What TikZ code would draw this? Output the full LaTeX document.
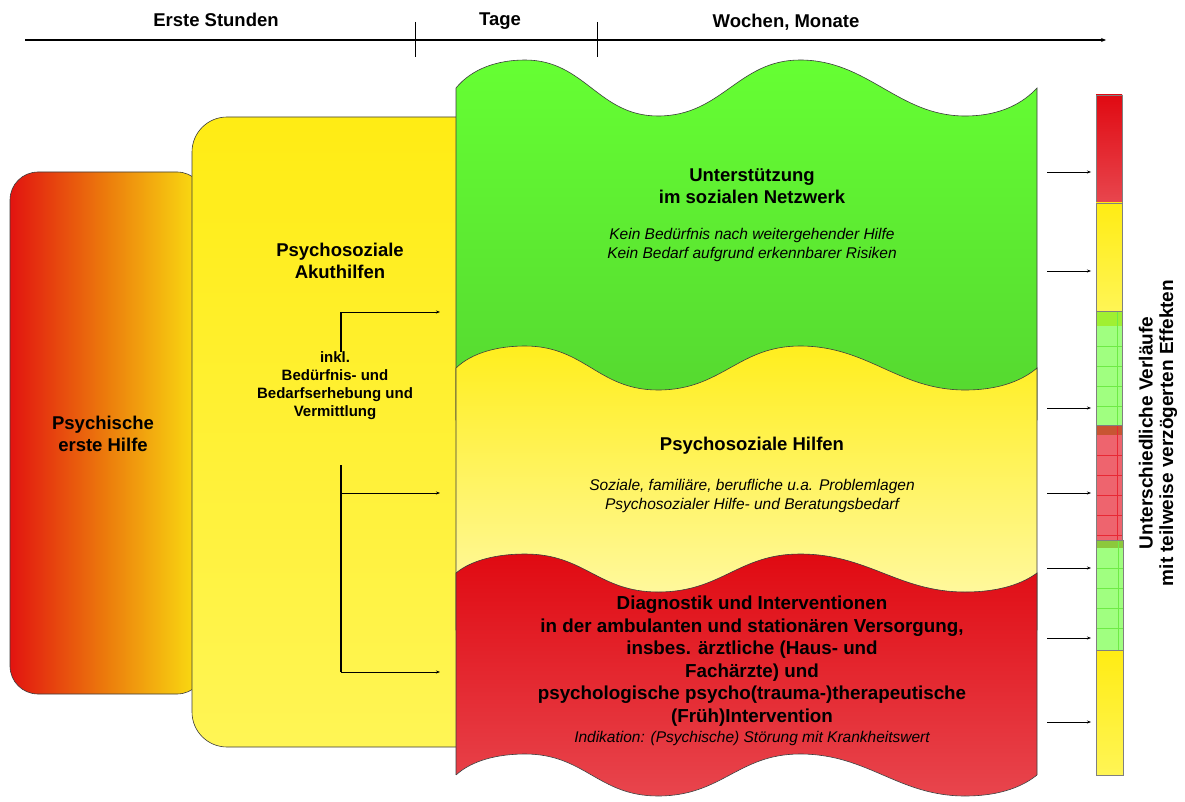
\documentclass[tikz,border=0pt]{standalone}
\usepackage{fontspec}
\setmainfont{Liberation Sans}
\usetikzlibrary{arrows.meta}
\definecolor{peRed}{RGB}{226,20,16}
\definecolor{peOrange}{RGB}{236,125,12}
\definecolor{peYellow}{RGB}{250,228,18}
\definecolor{akTop}{RGB}{255,236,20}
\definecolor{akBot}{RGB}{255,245,85}
\definecolor{grTop}{RGB}{102,255,51}
\definecolor{grBot}{RGB}{84,214,48}
\definecolor{yeTop}{RGB}{255,238,30}
\definecolor{yeBot}{RGB}{255,250,175}
\definecolor{rdTop}{RGB}{224,10,18}
\definecolor{rdBot}{RGB}{232,70,78}
\definecolor{bGreen}{RGB}{160,255,128}
\definecolor{bGreenLine}{RGB}{110,235,70}
\definecolor{bRed}{RGB}{238,100,110}
\definecolor{bRedLine}{RGB}{232,40,52}
\definecolor{bBrown}{RGB}{200,85,50}
\definecolor{bLime}{RGB}{160,240,50}
\definecolor{bOlive}{RGB}{140,200,60}
\definecolor{edge}{RGB}{60,60,60}
\newcommand{\mywave}[2]{(456,#1) .. controls (472,#1-#2*0.7) and (498,#1-#2) .. (525,#1-#2) .. controls (585,#1-#2) and (598,#1+#2) .. (658,#1+#2) .. controls (722,#1+#2) and (738,#1-#2) .. (800,#1-#2) .. controls (868,#1-#2) and (898,#1+#2) .. (965,#1+#2) .. controls (1002,#1+#2) and (1024,#1+#2*0.5) .. (1037,#1)}
\tikzset{
  x=1pt, y=-1pt,
  region/.style={draw=edge, line width=0.6pt},
  boldtxt/.style={align=center, font=\bfseries\fontsize{18.5}{22}\selectfont},
  ittxt/.style={align=center, font=\itshape\fontsize{15.5}{19.5}\selectfont},
  thin arrow/.style={line width=0.6pt, -{Stealth[length=4pt,width=3pt]}},
  barseg/.style={draw=gray, line width=0.8pt},
}
\begin{document}
\begin{tikzpicture}
\useasboundingbox[fill=white] (0,0) rectangle (1185,802);
% timeline
\coordinate (tl0) at (25,40);
\coordinate (tl1) at (1106,40);
\draw[line width=1.2pt, -{Stealth[length=5pt,width=4pt]}] (tl0) -- (tl1);
\coordinate (tk1a) at (415,22); \coordinate (tk1b) at (415,57);
\coordinate (tk2a) at (597,22); \coordinate (tk2b) at (597,57);
\draw[line width=0.8pt] (tk1a) -- (tk1b);
\draw[line width=0.8pt] (tk2a) -- (tk2b);
\node[boldtxt] (lbl1) at (216,20) {Erste Stunden};
\node[boldtxt] (lbl2) at (500,21) {Tage};
\node[boldtxt] (lbl3) at (786,22) {Wochen, Monate};
% box psychische erste hilfe
\path[draw=edge, line width=0.6pt, rounded corners=28pt, left color=peRed, right color=peYellow, middle color=peOrange] (10,172) rectangle (205,694);
\node[boldtxt] (pe) at (103,434) {Psychische\\erste Hilfe};
% box akuthilfen
\path[draw=edge, line width=0.6pt, rounded corners=35pt, top color=akTop, bottom color=akBot] (192,117) rectangle (500,747);
\node[boldtxt] (ak) at (340,261) {Psychosoziale\\Akuthilfen};
\node[align=center, font=\bfseries\fontsize{15}{18}\selectfont] (inkl) at (335,386) {inkl.\\Bedürfnis- und\\Bedarfserhebung und\\Vermittlung};
% wavy regions
\path[region, top color=grTop, bottom color=grBot] \mywave{88}{28} -- (1037,420) -- (456,420) -- cycle;
\path[region, top color=yeTop, bottom color=yeBot] \mywave{368}{22} -- (1037,630) -- (456,630) -- cycle;
\path[region, top color=rdTop, bottom color=rdBot] \mywave{573}{19} -- (1037,800) -- (456,800) -- cycle;
\path[fill=white] (448,775) -- \mywave{775}{21} -- (1046,775) -- (1046,806) -- (448,806) -- cycle;
\draw[edge, line width=0.6pt] \mywave{775}{21};
% texts in regions
\node[boldtxt] (un) at (752,186) {Unterstützung\\im sozialen Netzwerk};
\node[ittxt] (unt) at (752,245) {Kein Bedürfnis nach weitergehender Hilfe\\Kein Bedarf aufgrund erkennbarer Risiken};
\node[boldtxt] (ph) at (752,446) {Psychosoziale Hilfen};
\node[ittxt] (pht) at (752,496) {Soziale, familiäre, berufliche u.a. Problemlagen\\Psychosozialer Hilfe- und Beratungsbedarf};
\node[boldtxt, font=\bfseries\fontsize{18.8}{22.5}\selectfont] (di) at (752,661) {Diagnostik und Interventionen\\in der ambulanten und stationären Versorgung,\\insbes. ärztliche (Haus- und\\Fachärzte) und\\psychologische psycho(trauma-)therapeutische\\(Früh)Intervention};
\node[ittxt] (dit) at (752,738) {Indikation: (Psychische) Störung mit Krankheitswert};
% connectors in Akuthilfen box
\coordinate (v1a) at (341,312); \coordinate (v1b) at (341,352);
\coordinate (v2a) at (341,465); \coordinate (v2m) at (341,493); \coordinate (v2b) at (341,672);
\coordinate (t1) at (440,312); \coordinate (t2) at (440,493); \coordinate (t3) at (440,672);
\draw[line width=1.2pt] (v1a) -- (v1b);
\draw[line width=1.2pt] (v2a) -- (v2b);
\draw[thin arrow] (v1a) -- (t1);
\draw[thin arrow] (v2m) -- (t2);
\draw[thin arrow] (v2b) -- (t3);
% right bar
\path[barseg, top color=rdTop, bottom color=rdBot] (1096,95) rectangle (1122,203);
\path[barseg, top color=akTop, bottom color=akBot] (1096,203) rectangle (1122,311);
\path[barseg, fill=bGreen] (1096,311) rectangle (1122,425);
\fill[bLime] (1096,311) rectangle (1122,326);
\foreach \yy in {346,366,386,406} {\draw[bGreenLine, line width=0.5pt] (1096,\yy) -- (1122,\yy);}
\draw[bGreenLine, line width=0.5pt] (1117,311) -- (1117,425);
\draw[gray, line width=0.8pt] (1096,311) rectangle (1122,425);
\path[barseg, fill=bRed] (1096,425) rectangle (1122,540);
\fill[bBrown] (1096,425) rectangle (1122,435);
\foreach \yy in {455,475,495,515,535} {\draw[bRedLine, line width=0.5pt] (1096,\yy) -- (1122,\yy);}
\draw[bRedLine, line width=0.5pt] (1117,425) -- (1117,540);
\draw[gray, line width=0.8pt] (1096,425) rectangle (1122,540);
\path[barseg, fill=bGreen] (1096,540) rectangle (1123,650);
\fill[bOlive] (1096,540) rectangle (1123,548);
\foreach \yy in {568,588,608,628} {\draw[bGreenLine, line width=0.5pt] (1096,\yy) -- (1123,\yy);}
\draw[bGreenLine, line width=0.5pt] (1118,540) -- (1118,650);
\draw[gray, line width=0.8pt] (1096,540) rectangle (1123,650);
\path[barseg, top color=akTop, bottom color=akBot] (1096,650) rectangle (1123,775);
% right arrows
\foreach \yy [count=\i] in {172,271,408,493,568,638,722} {
  \coordinate (ra\i) at (1047,\yy);
  \coordinate (rb\i) at (1091,\yy);
  \draw[thin arrow] (ra\i) -- (rb\i);
}
\node[rotate=90, align=center, font=\bfseries\fontsize{19}{20.5}\selectfont] (vt) at (1158,433) {Unterschiedliche Verläufe\\mit teilweise verzögerten Effekten};
\end{tikzpicture}
\end{document}
